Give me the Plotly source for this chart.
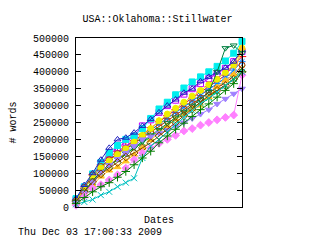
import plotly.graph_objects as go

days = [0, 5, 10, 15, 20, 25, 30, 35, 40, 45, 50, 55, 60, 65, 70, 75, 80, 85, 90, 95, 100]

# word counts in thousands
s_red = [20, 55, 95, 125, 148, 165, 180, 196, 215, 235, 252, 270, 288, 305, 322, 340, 356, 372, 390, 420, 445]
s_green = [15, 42, 75, 100, 122, 140, 156, 172, 190, 208, 225, 242, 258, 275, 292, 310, 326, 342, 360, 380, 410]
s_blue = [18, 52, 88, 118, 140, 160, 176, 192, 210, 228, 246, 262, 280, 296, 314, 330, 348, 365, 382, 405, 430]
s_magenta = [22, 58, 95, 128, 155, 175, 192, 210, 240, 258, 280, 300, 316, 334, 350, 365, 380, 395, 410, 430, 460]
s_cyan = [25, 60, 98, 132, 160, 182, 200, 210, 232, 262, 290, 310, 332, 352, 370, 385, 400, 416, 432, 455, 490]
s_brown = [20, 58, 95, 120, 140, 158, 172, 188, 205, 222, 238, 255, 272, 290, 306, 322, 338, 352, 368, 388, 420]
s_yellow = [20, 52, 88, 115, 136, 155, 172, 192, 212, 232, 255, 275, 292, 310, 328, 345, 362, 378, 398, 420, 470]
s_navy = [25, 65, 100, 140, 175, 200, 205, 220, 240, 260, 280, 300, 318, 338, 350, 372, 385, 398, 412, 430, 465]
s_orange = [12, 38, 65, 90, 108, 118, 135, 155, 175, 198, 220, 240, 260, 275, 290, 300, 325, 355, 375, 392, 470]
s_dkgreen = [15, 45, 78, 104, 124, 142, 158, 176, 194, 212, 228, 248, 265, 282, 300, 318, 340, 400, 470, 478, 455]
s_ltpurple = [12, 42, 75, 102, 124, 142, 160, 180, 200, 208, 218, 228, 238, 250, 262, 275, 288, 305, 320, 335, 350]
s_sienna = [16, 44, 74, 98, 116, 132, 148, 160, 175, 190, 210, 230, 250, 270, 290, 312, 330, 345, 360, 378, 400]
s_violet = [5, 32, 55, 66, 80, 95, 115, 140, 160, 175, 188, 200, 212, 225, 232, 242, 250, 258, 265, 272, 390]
s_dkcyan = [8, 15, 22, 35, 45, 60, 72, 85, 145, 180, 200, 222, 245, 265, 285, 305, 322, 340, 358, 378, 400]
s_green2 = [10, 28, 45, 60, 72, 88, 105, 125, 145, 165, 190, 210, 230, 248, 268, 288, 305, 325, 345, 365, 400]

series = [
    (s_red, "#ff0000", "cross-thin-open"),
    (s_green, "#00c000", "x-thin-open"),
    (s_blue, "#0080ff", "asterisk-open"),
    (s_magenta, "#c000ff", "square-open"),
    (s_cyan, "#00eeee", "square"),
    (s_brown, "#c04000", "circle-open"),
    (s_yellow, "#eeee00", "circle"),
    (s_navy, "#2020c0", "triangle-up-open"),
    (s_orange, "#ffc020", "triangle-up"),
    (s_dkgreen, "#008040", "triangle-down-open"),
    (s_ltpurple, "#a080ff", "triangle-down"),
    (s_sienna, "#804000", "diamond-open"),
    (s_violet, "#ff80ff", "diamond"),
    (s_dkcyan, "#00c0c0", "x-thin-open"),
    (s_green2, "#008000", "cross-thin-open"),
]

font = "Liberation Mono"
fig = go.Figure()
for vals, col, sym in series:
    fig.add_trace(go.Scatter(
        x=days, y=[v * 1000 for v in vals], mode="lines+markers",
        line=dict(color=col, width=1),
        marker=dict(symbol=sym, size=6, color=col, line=dict(color=col, width=1)),
        showlegend=False, cliponaxis=False,
    ))

fig.update_layout(
    width=320, height=240,
    margin=dict(l=73, r=78, t=38, b=33),
    paper_bgcolor="white", plot_bgcolor="white",
    font=dict(family=font, size=10, color="black"),
    title=dict(text="USA::Oklahoma::Stillwater", x=0.492, xanchor="center",
               y=1 - 18 / 240, yanchor="middle", font=dict(size=10)),
    xaxis=dict(range=[0, 100], showticklabels=False, ticks="", showgrid=False,
               zeroline=False, showline=True, linecolor="black", linewidth=1, mirror=True,
               title=dict(text="Dates", standoff=8, font=dict(size=10))),
    yaxis=dict(range=[0, 500000], dtick=50000, tickformat="d", ticks="inside", ticklen=5,
               tickcolor="black", showgrid=False, zeroline=False, showline=True,
               linecolor="black", linewidth=1, mirror="ticks", ticklabelstandoff=4,
               tickfont=dict(size=10),
               title=dict(text="# words", standoff=14, font=dict(size=10))),
    annotations=[dict(text="Thu Dec 03 17:00:33 2009", xref="paper", yref="paper",
                      x=(12 - 73) / 169, y=-(233 - 207) / 169, xanchor="left", yanchor="middle",
                      showarrow=False, font=dict(size=10))],
)
fig.write_html("out.html")
